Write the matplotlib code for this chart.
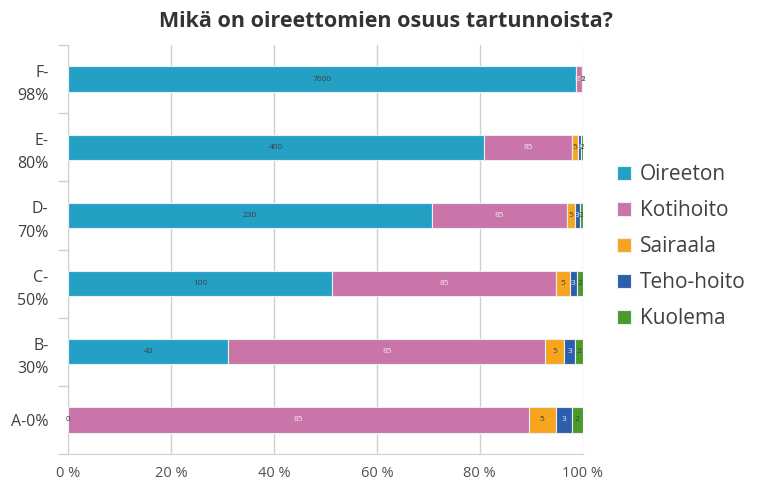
import numpy as np
import matplotlib
matplotlib.use('Agg')
import matplotlib.pyplot as plt
from matplotlib.ticker import FixedLocator

plt.rcParams['font.family'] = ['Open Sans', 'DejaVu Sans']

categories = ['A-0%', 'B-\n30%', 'C-\n50%', 'D-\n70%', 'E-\n80%', 'F-\n98%']
series = ['Oireeton', 'Kotihoito', 'Sairaala', 'Teho-hoito', 'Kuolema']
oireeton = [0, 43, 100, 230, 400, 7600]
kotihoito = [85, 85, 85, 85, 85, 85]
sairaala = [5, 5, 5, 5, 5, 5]
teho = [3, 3, 3, 3, 3, 3]
kuolema = [2, 2, 2, 2, 2, 2]

colors = ['#25a0c5', '#c975aa', '#f7a51f', '#2d5eab', '#4b9a2c']
label_colors = ['#404040', '#f3e6ef', '#404040', '#dfe6f2', '#404040']

data = np.array([oireeton, kotihoito, sairaala, teho, kuolema], dtype=float)
totals = data.sum(axis=0)
pct = data / totals * 100

fig = plt.figure(figsize=(7.57, 4.84), dpi=100)
ax = fig.add_axes([0.0898, 0.062, 0.680, 0.845])

y = np.arange(len(categories))
left = np.zeros(len(categories))
for i, name in enumerate(series):
    ax.barh(y, pct[i], left=left, height=0.37, color=colors[i],
            edgecolor='#e8f0f4', linewidth=0.8, label=name, zorder=3)
    for j in range(len(categories)):
        cx = left[j] + pct[i][j] / 2
        ax.text(cx, y[j], '%d' % data[i][j], ha='center', va='center',
                fontsize=6, color=label_colors[i], zorder=4)
    left += pct[i]

ax.set_xlim(0, 100)
ax.set_ylim(-0.5, len(categories) - 0.5)
ax.set_xticks([0, 20, 40, 60, 80, 100])
ax.set_xticklabels(['0 %', '20 %', '40 %', '60 %', '80 %', '100 %'])
ax.set_yticks(y)
ax.set_yticklabels(categories, fontsize=11.5, color='#404040', linespacing=1.6)
ax.yaxis.set_minor_locator(FixedLocator(np.arange(-0.5, len(categories), 1)))
ax.tick_params(axis='y', which='major', length=0, pad=14)
ax.tick_params(axis='y', which='minor', length=7, color='#d0d0d0', width=1)
ax.tick_params(axis='x', length=0, pad=9, labelsize=10.5, labelcolor='#505050')

ax.grid(axis='x', color='#d0d0d0', linewidth=1, zorder=0)
for s in ['top', 'right']:
    ax.spines[s].set_visible(False)
ax.spines['left'].set_color('#d0d0d0')
ax.spines['bottom'].set_color('#d0d0d0')

fig.suptitle('Mikä on oireettomien osuus tartunnoista?', x=0.51, y=0.978,
             fontsize=15.5, fontweight='bold', color='#333333')

fig.legend(loc='center left', bbox_to_anchor=(0.79, 0.49), frameon=False,
           fontsize=15, handlelength=0.7, handleheight=0.7, handletextpad=0.4,
           labelspacing=0.72, labelcolor='#404040')

fig.savefig('out.png', dpi=100)
